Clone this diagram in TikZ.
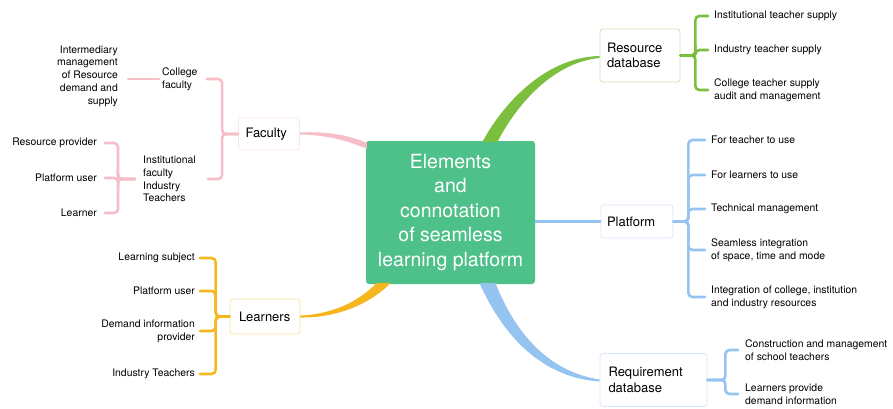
\documentclass[tikz,border=0pt]{standalone}
\usepackage{fontspec}
\setmainfont{TeX Gyre Heros}
\usetikzlibrary{calc}

\definecolor{hubgreen}{RGB}{78,192,137}
\definecolor{resgreen}{RGB}{124,190,62}
\definecolor{platblue}{RGB}{150,196,240}
\definecolor{facpink}{RGB}{246,190,198}
\definecolor{learnorange}{RGB}{245,182,30}

\tikzset{
  hub/.style={fill=hubgreen, rounded corners=3pt, text=white, minimum width=169pt, minimum height=143pt, align=center, font=\fontsize{19.5}{24.5}\selectfont},
  topic/.style={draw=#1!40, fill=white, rounded corners=3pt, line width=0.8pt, inner ysep=5pt, align=left, font=\fontsize{13}{15.5}\selectfont},
  leaf/.style={inner sep=0pt, font=\fontsize{10.4}{12.8}\selectfont},
  twig/.style={draw=#1, line width=2.6pt, line cap=round, rounded corners=4pt}
}

\begin{document}
\begin{tikzpicture}[x=1pt, y=-1pt]
\useasboundingbox (0,0) rectangle (893,409);

% centre
\node[hub] (hub) at (450.5,212.5) {Elements\\and\\connotation\\of seamless\\learning platform};

% 1st level
\node[topic=resgreen, text width=66pt, inner xsep=7pt, minimum height=53pt] (res) at (640,55.5) {Resource\\database};
\node[topic=platblue, text width=60pt, inner xsep=6pt, minimum height=33pt] (plat) at (637,221.5) {Platform};
\node[topic=platblue, text width=90pt, inner xsep=8.5pt, minimum height=53pt] (req) at (653.5,380) {Requirement\\database};
\node[topic=facpink, text width=47pt, inner xsep=7pt, minimum height=32pt] (fac) at (269,134) {Faculty};
\node[topic=learnorange, text width=52pt, inner xsep=9pt, minimum height=35pt] (learn) at (265,316.5) {Learners};

% main branches
\fill[resgreen] ($(hub.north)+(32,1)$) .. controls (505,100) and (548,57) .. ($(res.west)+(0,0.5)$)
  -- ($(res.west)+(0,2.5)$) .. controls (555,62) and (518,102) .. ($(hub.north)+(47,1)$) -- cycle;
\fill[platblue] ($(hub.south)+(29,-1)$) .. controls (505,340) and (545,378) .. ($(req.west)+(0,1.5)$)
  -- ($(req.west)+(0,-0.5)$) .. controls (550,372) and (516,335) .. ($(hub.south)+(45,-1)$) -- cycle;
\fill[learnorange] ($(hub.south)+(-74,-1)$) .. controls (360,300) and (335,314) .. ($(learn.east)+(0,-1)$)
  -- ($(learn.east)+(0,1)$) .. controls (340,318) and (372,302) .. ($(hub.south)+(-60,-1)$) -- cycle;
\fill[facpink] ($(fac.east)+(0,-1.5)$) .. controls (330,131) and (350,136) .. ($(hub.north west)+(1,2)$)
  -- ($(hub.north west)+(1,8)$) .. controls (350,142) and (330,135) .. ($(fac.east)+(0,0.5)$) -- cycle;
\draw[draw=platblue, line width=2.4pt] (hub.east |- plat.west) -- (plat.west);

% resource database
\node[leaf, anchor=west] (rl1) at (714,16) {Institutional teacher supply};
\node[leaf, anchor=west] (rl2) at (714,50) {Industry teacher supply};
\node[leaf, anchor=west, align=left] (rl3) at (714,90) {College teacher supply\\audit and management};
\foreach \n in {rl1,rl2,rl3}
  \draw[twig=resgreen, shorten >=6pt] (res.east) -- ++(15,0) |- (\n.west);

% platform
\node[leaf, anchor=west] (pl1) at (711,140) {For teacher to use};
\node[leaf, anchor=west] (pl2) at (711,175) {For learners to use};
\node[leaf, anchor=west] (pl3) at (711,209) {Technical management};
\node[leaf, anchor=west, align=left] (pl4) at (711,250) {Seamless integration\\of space, time and mode};
\node[leaf, anchor=west, align=left] (pl5) at (711,297) {Integration of college, institution\\and industry resources};
\foreach \n in {pl1,pl2,pl3,pl4,pl5}
  \draw[twig=platblue, shorten >=6pt] (plat.east) -- ++(15,0) |- (\n.west);

% requirement database
\node[leaf, anchor=west, align=left] (ql1) at (745,350) {Construction and management\\of school teachers};
\node[leaf, anchor=west, align=left] (ql2) at (745,394) {Learners provide\\demand information};
\foreach \n in {ql1,ql2}
  \draw[twig=platblue, shorten >=7pt] (req.east) -- ++(18,0) |- (\n.west);

% faculty
\node[leaf, anchor=west, align=left] (fl1) at (162,79) {College\\faculty};
\node[leaf, anchor=west, align=left] (fl2) at (143,179) {Institutional\\faculty\\Industry\\Teachers};
\node[leaf, anchor=east, align=right] (fi) at (118,76) {Intermediary\\management\\of Resource\\demand and\\supply};
\draw[twig=facpink, shorten >=9pt] (fac.west) -- ++(-16,0) |- (fl1.east);
\draw[twig=facpink, shorten >=12pt] (fac.west) -- ++(-16,0) |- (fl2.east);
\draw[twig=facpink, shorten <=3pt, shorten >=10pt] (fl1.west) -- (fl1.west -| fi.east);

\node[leaf, anchor=east] (fs1) at (97,143) {Resource provider};
\node[leaf, anchor=east] (fs2) at (97,178) {Platform user};
\node[leaf, anchor=east] (fs3) at (97,213) {Learner};
\foreach \n in {fs1,fs2,fs3}
  \draw[twig=facpink, shorten <=8pt, shorten >=8pt] (fl2.west) -- ++(-25,0) |- (\n.east);

% learners
\node[leaf, anchor=east] (ll1) at (195,258) {Learning subject};
\node[leaf, anchor=east] (ll2) at (195,291) {Platform user};
\node[leaf, anchor=east, align=right] (ll3) at (195,331) {Demand information\\provider};
\node[leaf, anchor=east] (ll4) at (195,374) {Industry Teachers};
\foreach \n in {ll1,ll2,ll3,ll4}
  \draw[twig=learnorange, shorten >=5pt] (learn.west) -- ++(-14,0) |- (\n.east);
\end{tikzpicture}
\end{document}
